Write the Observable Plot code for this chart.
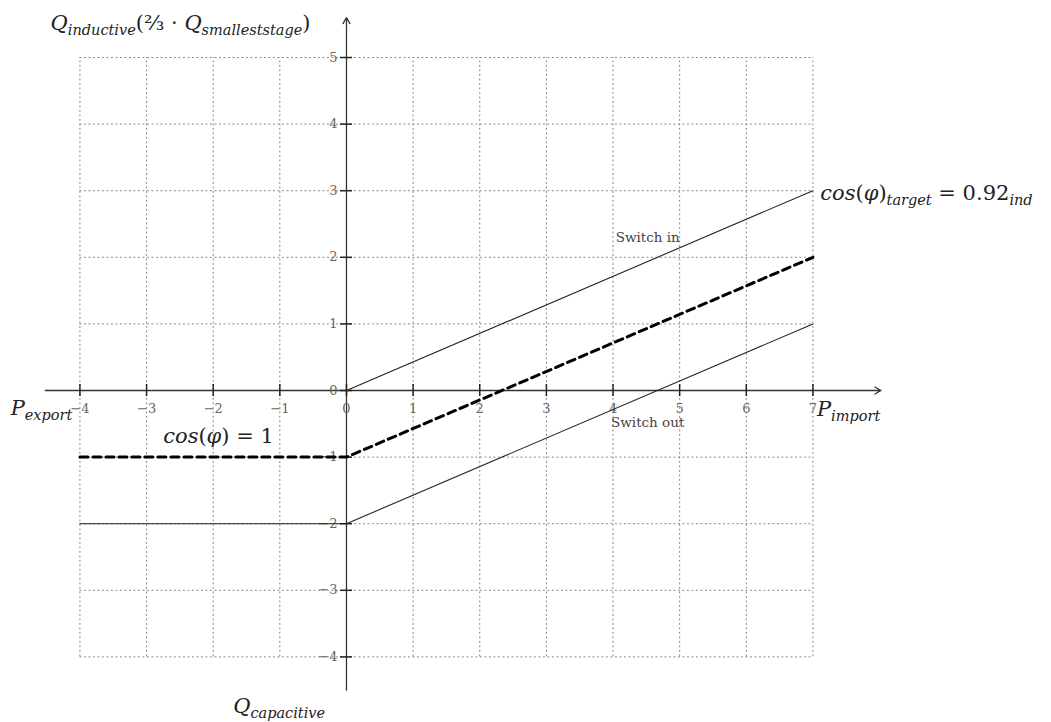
<!DOCTYPE html>
<html><head><meta charset="utf-8">
<script src="https://cdn.jsdelivr.net/npm/d3@7"></script>
<script src="https://cdn.jsdelivr.net/npm/@observablehq/plot@0.6"></script>
<style>body{margin:0;background:#fff;} #chart svg{display:block;}</style>
</head><body><div id="chart"></div>
<script>
// ---- data ----
const gridX = [-4,-3,-2,-1,1,2,3,4,5,6,7];
const gridY = [-4,-3,-2,-1,1,2,3,4,5];
const tickX = [-4,-3,-2,-1,0,1,2,3,4,5,6,7];
const tickY = [-4,-3,-2,-1,0,1,2,3,4,5];
const tickXLabels = ["−4","−3","−2","−1","0","1","2","3","4","5","6","7"];
const tickYLabels = ["−4","−3","−2","−1","0","1","2","3","4","5"];

// Switch-in line (cos φ target = 0.92 ind)
const switchInP = [0, 7];
const switchInQ = [0, 3];
// middle (dashed) characteristic
const midP = [-4, 0, 7];
const midQ = [-1, -1, 2];
// Switch-out line
const switchOutP = [-4, 0, 7];
const switchOutQ = [-2, -2, 1];

// annotations
const annText = ["Q_{inductive}[(⅔ · ]Q_{smalleststage}[)]", "P_{export}", "P_{import}", "Q_{capacitive}",
                 "cos[(]φ[)]_{target}[ = 0.92]_{ind}", "cos[(]φ[) = 1]"];
const annX = [-4.44, -5.04, 7.06, -1.70, 7.11, -2.75];
const annY = [5.52, -0.27, -0.28, -4.74, 2.96, -0.68];
const smallText = ["Switch in", "Switch out"];
const smallX = [4.52, 4.52];
const smallY = [2.30, -0.49];

const mk = (xs, ys) => xs.map((x, i) => ({x, y: ys[i]}));
const serif = "'DejaVu Serif', serif";

const plot = Plot.plot({
  width: 1051, height: 722,
  marginLeft: 0, marginRight: 0, marginTop: 0, marginBottom: 0,
  x: {domain: [-5.192, 10.58], axis: null},
  y: {domain: [-4.985, 5.856], axis: null},
  style: {fontFamily: serif, background: "#fff"},
  marks: [
    Plot.ruleX(gridX, {x: d => d, y1: -4, y2: 5, stroke: "#8a8a8a", strokeWidth: 1, strokeDasharray: "2,2.5"}),
    Plot.ruleY(gridY, {y: d => d, x1: -4, x2: 7, stroke: "#8a8a8a", strokeWidth: 1, strokeDasharray: "2,2.5"}),
    // axes
    Plot.arrow([{x1: -4.52, y1: 0, x2: 8.02, y2: 0}], {x1: "x1", y1: "y1", x2: "x2", y2: "y2", stroke: "#333", strokeWidth: 1.3, headLength: 8}),
    Plot.arrow([{x1: 0, y1: -4.5, x2: 0, y2: 5.6}], {x1: "x1", y1: "y1", x2: "x2", y2: "y2", stroke: "#333", strokeWidth: 1.3, headLength: 8}),
    Plot.ruleX(tickX, {x: d => d, y1: -0.09, y2: 0.09, stroke: "#222", strokeWidth: 1.5}),
    Plot.ruleY(tickY, {y: d => d, x1: -0.09, x2: 0.09, stroke: "#222", strokeWidth: 1.5}),
    Plot.text(tickX, {x: d => d, y: 0, text: (d, i) => tickXLabels[i], dy: 18, fontSize: 13, fill: "#666"}),
    Plot.text(tickY, {x: 0, y: d => d, text: (d, i) => tickYLabels[i], dx: -9, textAnchor: "end", fontSize: 13, fill: "#666"}),
    // characteristic lines
    Plot.line(mk(switchInP, switchInQ), {x: "x", y: "y", stroke: "#222", strokeWidth: 1.1}),
    Plot.line(mk(switchOutP, switchOutQ), {x: "x", y: "y", stroke: "#222", strokeWidth: 1.1}),
    Plot.line(mk(midP, midQ), {x: "x", y: "y", stroke: "#000", strokeWidth: 3, strokeDasharray: "8,5"}),
    // annotations
    Plot.text(annText, {x: (d, i) => annX[i], y: (d, i) => annY[i], text: d => d, textAnchor: "start",
      fontSize: 21, fontStyle: "italic", fill: "#222", className: "math"}),
    Plot.text(smallText, {x: (d, i) => smallX[i], y: (d, i) => smallY[i], text: d => d, fontSize: 13.5, fill: "#444"})
  ]
});

// render simple math markup: _{..} subscript, [..] upright
d3.select(plot).selectAll(".math text").each(function() {
  const el = d3.select(this);
  const s = this.textContent;
  el.text(null);
  const parts = s.split(/(_\{[^}]*\}|\[[^\]]*\])/).filter(p => p.length);
  let shift = 0;
  for (const p of parts) {
    const t = el.append("tspan");
    if (p.startsWith("_{")) {
      t.text(p.slice(2, -1)).attr("font-size", 14.5).attr("dy", 5 - shift);
      shift = 5;
    } else {
      const upright = p.startsWith("[");
      t.text(upright ? p.slice(1, -1) : p);
      if (upright) t.attr("font-style", "normal");
      if (shift) { t.attr("dy", -shift); shift = 0; }
    }
  }
});

document.getElementById("chart").appendChild(plot);
</script>
</body></html>
